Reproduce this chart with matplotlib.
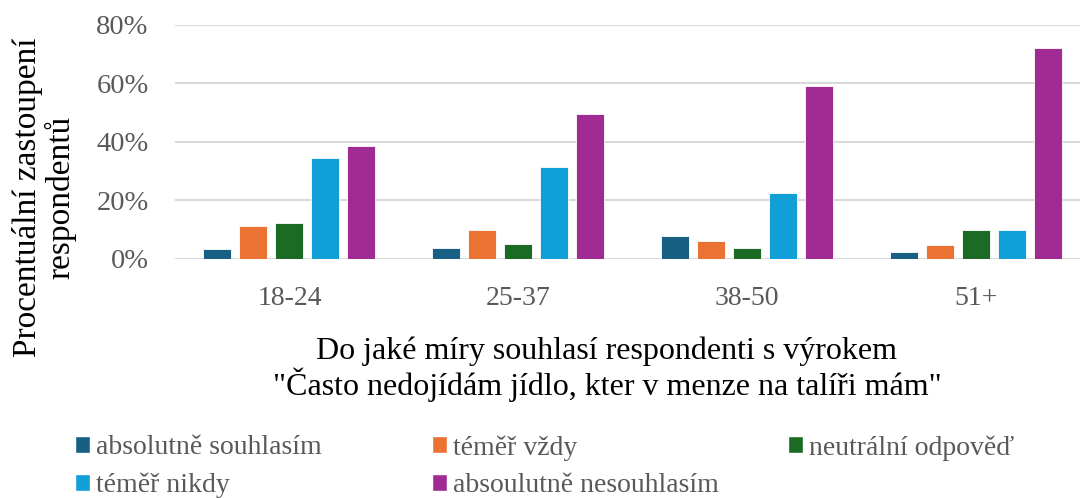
import matplotlib
matplotlib.use("Agg")
import matplotlib.pyplot as plt
from matplotlib.patches import Patch
from matplotlib.ticker import FuncFormatter
import numpy as np

plt.rcParams['font.family'] = ['Liberation Serif', 'DejaVu Serif']

categories = ["18-24", "25-37", "38-50", "51+"]
series_names = ["absolutně souhlasím", "téměř vždy", "neutrální odpověď",
                "téměř nikdy", "absoulutně nesouhlasím"]
absolutne_souhlasim = [3.2, 3.6, 7.7, 2.3]
temer_vzdy = [11.0, 9.6, 5.9, 4.6]
neutralni = [12.3, 5.0, 3.6, 9.6]
temer_nikdy = [34.3, 31.5, 22.4, 9.6]
absolutne_nesouhlasim = [38.4, 49.4, 59.0, 72.2]
colors = ["#175F83", "#EA7233", "#1B6B25", "#109FD7", "#A02B93"]
yticks = [0, 20, 40, 60, 80]

values = [absolutne_souhlasim, temer_vzdy, neutralni, temer_nikdy, absolutne_nesouhlasim]

fig = plt.figure(figsize=(10.8, 4.98), dpi=100)
ax = fig.add_axes([175/1080, 1-258.5/498, (1090-175)/1080, (258.5-25)/498])

x = np.arange(len(categories))
step = 36/229
width = 28/229
for i, (vals, col) in enumerate(zip(values, colors)):
    ax.bar(x + (i-2)*step, vals, width=width, color=col, edgecolor='white',
           linewidth=0.6, zorder=3)

ax.set_xlim(-0.5, len(categories)-0.5)
ax.set_ylim(0, 80)
ax.set_yticks(yticks)
ax.yaxis.set_major_formatter(FuncFormatter(lambda v, p: f"{int(v)}%"))
ax.grid(axis='y', color='#D9D9D9', linewidth=1.5, zorder=0)
ax.set_axisbelow(True)
for s in ax.spines.values():
    s.set_visible(False)
ax.tick_params(axis='y', length=0, labelsize=20.5, labelcolor='#595959', pad=19)
ax.tick_params(axis='x', length=0, labelsize=20, labelcolor='#595959', pad=20)
ax.set_xticks(x)
ax.set_xticklabels(categories)

ax.set_xlabel('Do jaké míry souhlasí respondenti s výrokem\n"Často nedojídám jídlo, kter v menze na talíři mám"',
              fontsize=23, color='black', linespacing=1.02)
ax.xaxis.set_label_coords((607-175)/(1090-175), -(337-258.5)/233.5)
ax.set_ylabel('Procentuální zastoupení\nrespondentů', fontsize=24, color='black',
              linespacing=1.02)
ax.yaxis.set_label_coords(-(175-76)/915, (258.5-197)/233.5)

handles = [Patch(facecolor=c, edgecolor='white') for c in colors]
cols = [[0, 3], [1, 4], [2]]
xs = [75, 432, 788]
for xpos, idx in zip(xs, cols):
    leg = fig.legend([handles[k] for k in idx], [series_names[k] for k in idx],
                     loc='upper left', bbox_to_anchor=(xpos/1080, 1-435/498),
                     frameon=False, fontsize=20, labelcolor='#595959',
                     handlelength=0.55, handleheight=0.55, handletextpad=0.2,
                     labelspacing=0.45, borderpad=0, borderaxespad=0)

fig.savefig("out.png", dpi=100)
